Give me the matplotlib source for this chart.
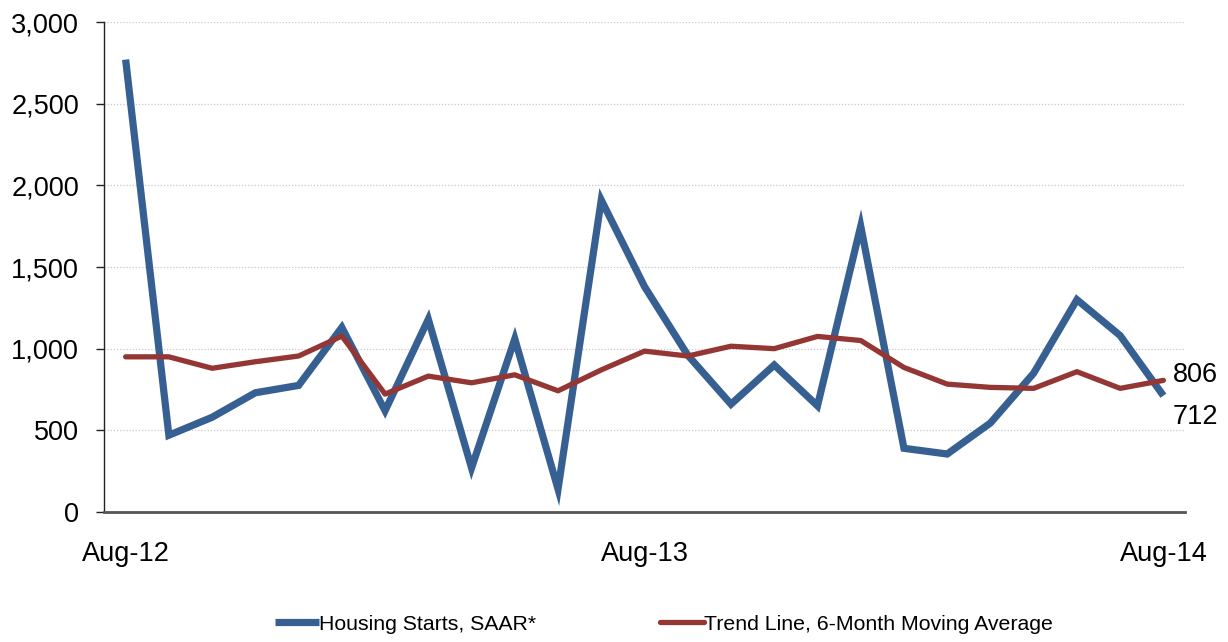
import matplotlib
matplotlib.use("Agg")
import matplotlib.pyplot as plt
from matplotlib.ticker import FuncFormatter

plt.rcParams['font.family'] = ['Liberation Sans', 'DejaVu Sans']

months = ["Aug-12", "Sep-12", "Oct-12", "Nov-12", "Dec-12", "Jan-13", "Feb-13", "Mar-13",
          "Apr-13", "May-13", "Jun-13", "Jul-13", "Aug-13", "Sep-13", "Oct-13", "Nov-13",
          "Dec-13", "Jan-14", "Feb-14", "Mar-14", "Apr-14", "May-14", "Jun-14", "Jul-14", "Aug-14"]
housing_starts = [2770, 470, 580, 730, 775, 1130, 620, 1180, 270, 1060, 140, 1910, 1380, 960,
                  660, 900, 650, 1750, 390, 355, 545, 850, 1300, 1080, 712]
trend_line = [950, 950, 880, 920, 955, 1077, 722, 832, 791, 840, 742, 870, 985, 955,
              1015, 1000, 1075, 1050, 885, 783, 763, 757, 859, 757, 806]
xtick_labels = ["Aug-12", "Aug-13", "Aug-14"]
yticks = [0, 500, 1000, 1500, 2000, 2500, 3000]

blue = "#376092"
red = "#943634"

fig = plt.figure(figsize=(12.28, 6.42), dpi=100)
ax = fig.add_axes([0.0847, 0.2025, 0.8803, 0.7632])

x = list(range(len(months)))
l1, = ax.plot(x, housing_starts, color=blue, lw=5.2, solid_joinstyle='miter',
              solid_capstyle='butt', label="Housing Starts, SAAR*", zorder=3)
l2, = ax.plot(x, trend_line, color=red, lw=3.8, solid_joinstyle='round',
              solid_capstyle='round', label="Trend Line, 6-Month Moving Average", zorder=4)

ax.set_xlim(-0.5, 24.5)
ax.set_ylim(0, 3000)
ax.set_yticks(yticks)
ax.yaxis.set_major_formatter(FuncFormatter(lambda v, p: f"{int(v):,}"))
ax.set_xticks([months.index(m) for m in xtick_labels])
ax.set_xticklabels(xtick_labels)

ax.grid(axis='y', color='#c8c8c8', linestyle=(0, (1, 1.5)), lw=0.9)
ax.set_axisbelow(True)
for s in ['top', 'right']:
    ax.spines[s].set_visible(False)
ax.spines['left'].set_color('#222222')
ax.spines['left'].set_linewidth(1.0)
ax.spines['bottom'].set_color('#555555')
ax.spines['bottom'].set_linewidth(2.0)

ax.tick_params(axis='y', labelsize=19.5, length=6, width=1, color='#222222', pad=12)
ax.tick_params(axis='x', labelsize=19.5, length=0, pad=21)

ax.annotate(f"{trend_line[-1]}", xy=(x[-1], trend_line[-1]), xytext=(7, 3.5),
            textcoords='offset points', fontsize=19.5, va='center', ha='left')
ax.annotate(f"{housing_starts[-1]}", xy=(x[-1], housing_starts[-1]), xytext=(7, -15),
            textcoords='offset points', fontsize=19.5, va='center', ha='left')

fig.legend(handles=[l1, l2], loc='center', bbox_to_anchor=(0.5407, 0.028), ncol=2,
           frameon=False, fontsize=15.3, handlelength=2.1, handletextpad=0.0,
           columnspacing=5.8)

fig.savefig("out.png", dpi=100)
